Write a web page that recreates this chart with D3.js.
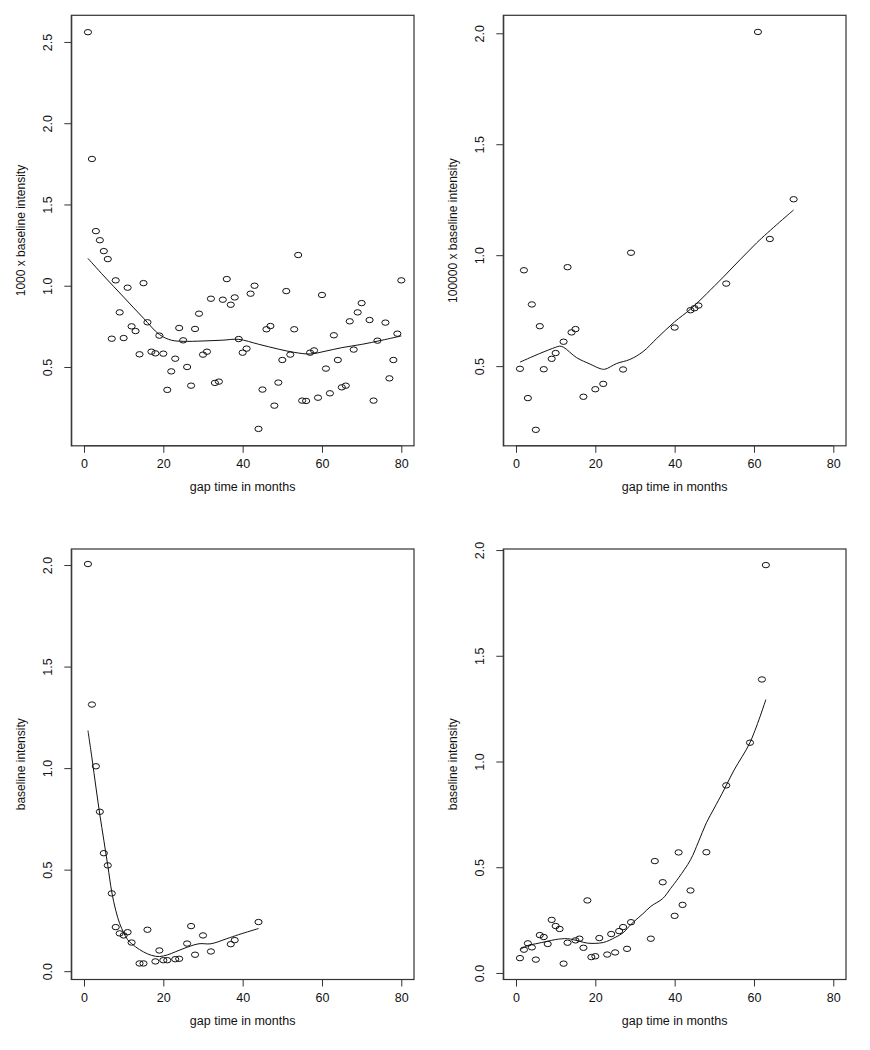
<!DOCTYPE html>
<html>
<head>
<meta charset="utf-8">
<script src="https://cdn.jsdelivr.net/npm/d3@7"></script>
<style>
  html, body { margin: 0; padding: 0; background: #fff; }
  svg { display: block; }
  text { font-family: "Liberation Sans", Arial, Helvetica, sans-serif; fill: #111; }
</style>
</head>
<body>
<svg id="chart" width="870" height="1050"></svg>
<script>
// ---------- data ----------
const xTicks = [0, 20, 40, 60, 80];
const xLabel = "gap time in months";

// Panel 1 (top-left)
const p1Title = "1000 x baseline intensity";
const p1YTicks = [0.5, 1.0, 1.5, 2.0, 2.5];
const p1X = [1,2,3,4,5,6,7,8,9,10,11,12,13,14,15,16,17,18,19,20,21,22,23,24,25,26,27,28,29,30,31,32,33,34,35,36,37,38,39,40,41,42,43,44,45,46,47,48,49,50,51,52,53,54,55,56,57,58,59,60,61,62,63,64,65,66,67,68,69,70,72,73,74,76,77,78,79,80];
const p1Y = [2.56,1.78,1.336,1.28,1.213,1.164,0.674,1.033,0.836,0.678,0.988,0.750,0.721,0.578,1.016,0.775,0.594,0.584,0.693,0.582,0.359,0.473,0.551,0.740,0.664,0.500,0.385,0.734,0.828,0.576,0.594,0.920,0.402,0.410,0.914,1.041,0.883,0.928,0.672,0.588,0.613,0.951,1.000,0.119,0.361,0.732,0.752,0.262,0.404,0.543,0.967,0.576,0.732,1.189,0.293,0.291,0.588,0.602,0.311,0.943,0.490,0.338,0.695,0.543,0.375,0.385,0.781,0.607,0.836,0.893,0.789,0.293,0.662,0.773,0.430,0.543,0.705,1.033];
const p1LineX = [1,5,10,15,19,22,25,30,35,39,44,49,53,57,61,65,70,75,80];
const p1LineY = [1.168,1.06,0.93,0.80,0.70,0.665,0.658,0.66,0.665,0.67,0.64,0.61,0.59,0.58,0.598,0.619,0.639,0.664,0.691];

// Panel 2 (top-right)
const p2Title = "100000 x baseline intensity";
const p2YTicks = [0.5, 1.0, 1.5, 2.0];
const p2X = [1,2,3,4,5,6,7,9,10,12,13,14,15,17,20,22,27,29,40,44,45,46,53,61,64,70];
const p2Y = [0.488,0.932,0.356,0.778,0.213,0.680,0.486,0.533,0.559,0.610,0.946,0.652,0.667,0.362,0.396,0.420,0.485,1.011,0.674,0.752,0.761,0.773,0.872,2.006,1.073,1.252];
const p2LineX = [1,6,10,11,12,15.3,18.7,21.2,22.4,25.4,28.7,32,35.5,40,44,52.3,60.7,70];
const p2LineY = [0.518,0.557,0.585,0.590,0.585,0.538,0.509,0.489,0.486,0.512,0.530,0.565,0.625,0.700,0.757,0.902,1.056,1.204];

// Panel 3 (bottom-left)
const p3Title = "baseline intensity";
const p3YTicks = [0.0, 0.5, 1.0, 1.5, 2.0];
const p3X = [1,2,3,4,5,6,7,8,9,10,11,12,14,15,16,18,19,20,21,23,24,26,27,28,30,32,37,38,44];
const p3Y = [2.005,1.313,1.009,0.785,0.581,0.521,0.383,0.217,0.186,0.176,0.192,0.141,0.038,0.038,0.204,0.048,0.102,0.054,0.054,0.059,0.061,0.136,0.222,0.081,0.176,0.097,0.133,0.153,0.242];
const p3LineX = [1,2,3,4,5,6,7,8,9,10,11,13,15,17,19,21,23,26,29,32,36,39,44];
const p3LineY = [1.185,1.05,0.907,0.77,0.645,0.52,0.39,0.30,0.234,0.19,0.155,0.12,0.095,0.078,0.072,0.08,0.095,0.118,0.135,0.135,0.16,0.18,0.21];

// Panel 4 (bottom-right)
const p4Title = "baseline intensity";
const p4YTicks = [0.0, 0.5, 1.0, 1.5, 2.0];
const p4X = [1,2,3,4,5,6,7,8,9,10,11,12,13,15,16,17,18,19,20,21,23,24,25,26,27,28,29,34,35,37,40,41,42,44,48,53,59,62,63];
const p4Y = [0.070,0.110,0.140,0.121,0.063,0.179,0.170,0.137,0.251,0.222,0.208,0.044,0.143,0.154,0.162,0.119,0.343,0.075,0.079,0.165,0.087,0.184,0.097,0.198,0.217,0.114,0.240,0.162,0.529,0.429,0.270,0.570,0.322,0.390,0.571,0.887,1.089,1.388,1.929];
const p4LineX = [1,3,5,8,10,13,16,18,22,25,27,29,32,34,37,39,41,44,46,48,50,52,55,59,63];
const p4LineY = [0.11,0.13,0.138,0.15,0.158,0.162,0.15,0.141,0.144,0.168,0.19,0.23,0.28,0.315,0.352,0.40,0.45,0.535,0.62,0.71,0.78,0.85,0.96,1.09,1.293];

// ---------- layout ----------
const panels = [
  {title: p1Title, yTicks: p1YTicks, xs: p1X, ys: p1Y, lx: p1LineX, ly: p1LineY, yDom: [0.015, 2.664], left: 71.3, top: 15.3},
  {title: p2Title, yTicks: p2YTicks, xs: p2X, ys: p2Y, lx: p2LineX, ly: p2LineY, yDom: [0.141, 2.081], left: 503.3, top: 15.3},
  {title: p3Title, yTicks: p3YTicks, xs: p3X, ys: p3Y, lx: p3LineX, ly: p3LineY, yDom: [-0.041, 2.079], left: 71.3, top: 549},
  {title: p4Title, yTicks: p4YTicks, xs: p4X, ys: p4Y, lx: p4LineX, ly: p4LineY, yDom: [-0.031, 2.005], left: 503.3, top: 549}
];
const W = 342.7, H = 430.5;
const svg = d3.select("#chart");
const fmt = d3.format(".1f");

panels.forEach(p => {
  const g = svg.append("g").attr("transform", `translate(${p.left},${p.top})`);
  const x = d3.scaleLinear().domain([-3.2, 83.2]).range([0, W]);
  const y = d3.scaleLinear().domain(p.yDom).range([H, 0]);

  // x axis
  const xa = g.append("g").attr("transform", `translate(0,${H})`)
    .call(d3.axisBottom(x).tickValues(xTicks).tickSize(7).tickSizeOuter(0).tickFormat(d3.format("d")));
  xa.select(".domain").attr("d", `M${x(xTicks[0])},0H${x(xTicks[xTicks.length-1])}`).attr("stroke", "#333");
  xa.selectAll(".tick line").attr("stroke", "#333");
  xa.selectAll(".tick text").attr("y", 22).attr("dy", 0).attr("font-size", 12.5)
    .style("font-family", '"Liberation Sans", Arial, sans-serif').attr("fill", "#111");

  // y axis
  const ya = g.append("g").call(d3.axisLeft(y).tickValues(p.yTicks).tickSize(7).tickSizeOuter(0).tickFormat(fmt));
  ya.select(".domain").attr("stroke", "#333");
  ya.selectAll(".tick line").attr("stroke", "#333");
  ya.selectAll(".tick text")
    .attr("x", null).attr("dy", null)
    .attr("transform", "translate(-19,0) rotate(-90)")
    .attr("text-anchor", "middle")
    .attr("font-size", 12.5)
    .style("font-family", '"Liberation Sans", Arial, sans-serif').attr("fill", "#111");

  // box
  g.append("rect").attr("x", 0).attr("y", 0).attr("width", W).attr("height", H)
    .attr("fill", "none").attr("stroke", "#333").attr("stroke-width", 1.2);

  // titles
  g.append("text").attr("x", W / 2 - (x(0) + x(80)) / 2 + (x(0) + x(80)) / 2).attr("y", H + 45.5)
    .attr("text-anchor", "middle").attr("font-size", 12.5).text(xLabel)
    .attr("x", (x(0) + x(80)) / 2);
  g.append("text")
    .attr("transform", `translate(-46,${H / 2}) rotate(-90)`)
    .attr("text-anchor", "middle").attr("font-size", 12).text(p.title);

  // smooth line
  const line = d3.line().x(d => x(d[0])).y(d => y(d[1])).curve(d3.curveCatmullRom.alpha(0.5));
  g.append("path").datum(d3.zip(p.lx, p.ly)).attr("d", line)
    .attr("fill", "none").attr("stroke", "#111").attr("stroke-width", 1);

  // points
  g.append("g").selectAll("ellipse").data(d3.zip(p.xs, p.ys)).join("ellipse")
    .attr("cx", d => x(d[0])).attr("cy", d => y(d[1]))
    .attr("rx", 3.6).attr("ry", 2.7)
    .attr("fill", "none").attr("stroke", "#111").attr("stroke-width", 1);
});
</script>
</body>
</html>
